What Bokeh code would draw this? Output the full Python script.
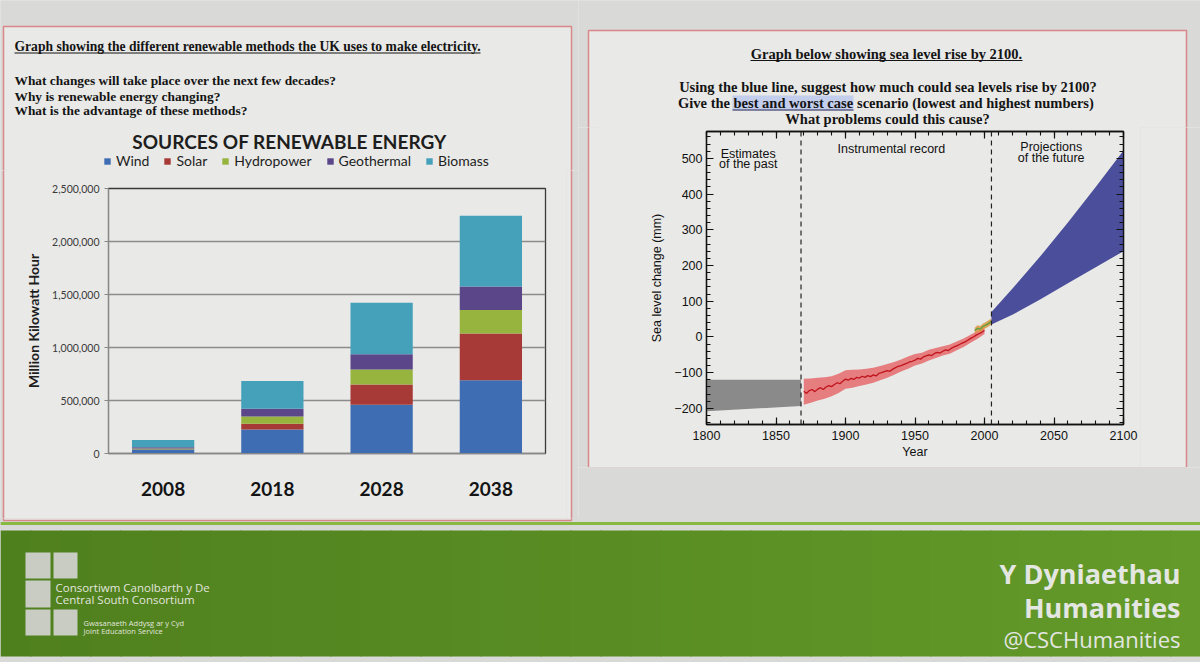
from bokeh.plotting import figure
from bokeh.models import (ColumnDataSource, FactorRange, Range1d, Label, Legend, LegendItem,
                          NumeralTickFormatter, SingleIntervalTicker, LinearAxis, Span)
from bokeh.core.properties import value
from bokeh.layouts import row, column
from bokeh.embed import file_html
from bokeh.resources import INLINE

# ---------------- data: renewable energy bar chart ----------------
years = ["2008", "2018", "2028", "2038"]
sources = ["Wind", "Solar", "Hydropower", "Geothermal", "Biomass"]
wind = [38000, 227000, 461000, 691000]
solar = [2000, 54000, 189000, 442000]
hydro = [8000, 69000, 142000, 221000]
geothermal = [10000, 73000, 145000, 221000]
biomass = [70000, 261000, 486000, 669000]
source_colors = ["#3F6DB3", "#A73A36", "#97B43F", "#5B4689", "#45A1BA"]

# ---------------- data: sea level chart ----------------
past_years = [1800, 1868]
past_low = [-208, -193]
past_high = [-120, -120]

instr_years = list(range(1870, 2001, 2))
instr_mean = [-152, -158, -150, -147, -153, -146, -142, -147, -140, -136, -139, -133, -128, -131,
              -124, -118, -121, -116, -119, -113, -115, -110, -113, -108, -111, -106, -109, -102,
              -100, -97, -94, -96, -90, -86, -82, -80, -77, -74, -70, -68, -65, -60, -62, -56,
              -53, -50, -52, -46, -43, -45, -40, -36, -38, -32, -28, -25, -21, -17, -14, -9,
              -4, 0, 5, 9, 13, 18]
band_years = list(range(1870, 2001, 5))
band_low = [-190, -184, -178, -173, -166, -157, -145, -142, -137, -133, -128, -121, -114, -106,
            -97, -89, -80, -74, -66, -59, -52, -47, -37, -28, -16, -5, 8]
band_high = [-117, -116, -114, -113, -110, -103, -93, -92, -91, -89, -86, -81, -76, -70,
             -63, -55, -48, -44, -36, -31, -26, -21, -13, -4, 6, 17, 28]

sat_years = [1993, 1995, 1997, 1999, 2001, 2003, 2005]
sat_mean = [18, 24, 22, 30, 33, 38, 44]
sat_low = [10, 15, 14, 21, 25, 29, 36]
sat_high = [26, 33, 31, 38, 42, 47, 52]

proj_years = [2005, 2020, 2040, 2060, 2080, 2100]
proj_low = [35, 62, 105, 150, 195, 240]
proj_high = [70, 135, 225, 320, 420, 522]

# ---------------- styling constants ----------------
SLIDE = "#d9d9d7"
PANEL = "#e9e9e7"
RED = "#d9878a"
SERIF = "Liberation Serif"
SANS = "Liberation Sans"
INK = "#141414"


def no_align(p):
    try:
        p.frame_align = False
    except Exception:
        pass
    return p


def deco(x0, x1, y0, y1):
    """A figure whose frame is its whole area, with data coordinates equal to page pixels."""
    p = figure(width=x1 - x0, height=y1 - y0, x_range=Range1d(x0, x1), y_range=Range1d(y1, y0),
               output_backend="svg", toolbar_location=None, title=None, min_border=0,
               x_axis_location=None, y_axis_location=None,
               background_fill_color=SLIDE, border_fill_color=SLIDE)
    p.grid.visible = False
    p.outline_line_color = None
    return no_align(p)


def panel(p, l, r, t, b):
    p.quad(left=[l], right=[r], top=[t], bottom=[b], fill_color=PANEL, fill_alpha=1.0,
           line_color=RED, line_alpha=1.0, line_width=1.5)


def txt(p, x, y, s, size, align="left", font=SERIF, style="bold", color=INK):
    p.text(x=[x], y=[y], text=[s], text_font=value(font), text_font_size=size,
           text_font_style=style, text_align=align, text_baseline="middle", text_color=color)


# ======================= LEFT PANEL =======================
hdrL = deco(0, 578, 0, 170)
panel(hdrL, 3, 571, 26, 900)
txt(hdrL, 14, 46, "Graph showing the different renewable methods the UK uses to make electricity.", "13.6px")
hdrL.segment(x0=[14], y0=[52.5], x1=[480], y1=[52.5], line_color=INK, line_width=1.1)
txt(hdrL, 14, 80, "What changes will take place over the next few decades?", "13.4px")
txt(hdrL, 14, 95.5, "Why is renewable energy changing?", "13.4px")
txt(hdrL, 14, 110, "What is the advantage of these methods?", "13.4px")
txt(hdrL, 289, 141, "SOURCES OF RENEWABLE ENERGY", "19px", align="center", font="Lato", color="#1e1e1e")

# legend swatches: renderers placed outside the visible header area
proxies = [hdrL.quad(left=[-50], right=[-40], top=[-50], bottom=[-40], fill_color=c, line_color=None)
           for c in source_colors]
legend = Legend(items=[LegendItem(label=s, renderers=[r]) for s, r in zip(sources, proxies)],
                orientation="horizontal", location=(103, 1), glyph_width=8, glyph_height=8,
                label_standoff=5, spacing=14, padding=0, margin=0, label_height=16,
                label_text_font="Lato", label_text_font_size="14px", label_text_color="#1e1e1e",
                border_line_color=None, background_fill_alpha=0.0)
hdrL.add_layout(legend)

src = ColumnDataSource(dict(year=years, Wind=wind, Solar=solar, Hydropower=hydro,
                            Geothermal=geothermal, Biomass=biomass))
p1 = figure(width=558, height=348, x_range=FactorRange(*years), y_range=Range1d(0, 2500000),
            output_backend="svg", toolbar_location=None, title=None,
            min_border_left=100, min_border_right=21, min_border_top=18, min_border_bottom=65,
            background_fill_color=PANEL, border_fill_color=PANEL)
no_align(p1)
p1.vbar_stack(stackers=sources, x="year", width=0.57, fill_color=source_colors,
              line_color=None, source=src)
p1.outline_line_color = "#3a3a3a"
p1.outline_line_width = 1.3
p1.xgrid.visible = False
p1.ygrid.grid_line_color = "#8c8c8c"
p1.ygrid.grid_line_width = 1.3

ya = p1.left[0]
ya.ticker = SingleIntervalTicker(interval=500000, num_minor_ticks=0)
ya.formatter = NumeralTickFormatter(format="0,0")
ya.major_label_text_font = "Lato"
ya.major_label_text_font_size = "10.5px"
ya.major_label_text_color = "#3a3a3a"
ya.major_tick_out = 4
ya.major_tick_in = 0
ya.major_tick_line_color = "#888888"
ya.minor_tick_line_color = None
ya.axis_line_color = "#888888"
ya.major_label_standoff = 5
ya.axis_label = "Million Kilowatt Hour"
ya.axis_label_text_font = "Lato"
ya.axis_label_text_font_size = "14px"
ya.axis_label_text_font_style = "bold"
ya.axis_label_text_color = "#1e1e1e"
ya.axis_label_standoff = 7

xa = p1.below[0]
xa.major_label_text_font = "Lato"
xa.major_label_text_font_size = "19px"
xa.major_label_text_font_style = "bold"
xa.major_label_text_color = INK
xa.major_tick_line_color = None
xa.axis_line_color = "#888888"
xa.major_label_standoff = 22

stripL0 = deco(0, 8, 170, 518)
panel(stripL0, 3, 571, 0, 900)
stripL = deco(566, 578, 170, 518)
panel(stripL, 3, 571, 0, 900)

left_group = column(hdrL, row(stripL0, p1, stripL), styles={"background-color": PANEL})

# ======================= RIGHT PANEL =======================
RT = "14.5px"
hdrR = deco(578, 1200, 0, 127)
panel(hdrR, 588, 1186, 30, 900)
txt(hdrR, 886, 53, "Graph below showing sea level rise by 2100.", RT, align="center")
hdrR.segment(x0=[750], y0=[60], x1=[1022], y1=[60], line_color=INK, line_width=1.1)
txt(hdrR, 887.5, 86, "Using the blue line, suggest how much could sea levels rise by 2100?",
    RT, align="center")
hdrR.quad(left=[732], right=[853], top=[95], bottom=[110], fill_color="#c3cdec", line_color=None)
txt(hdrR, 729.5, 102.5, "Give the", RT, align="right")
txt(hdrR, 733, 102.5, "best and worst case", RT)
hdrR.segment(x0=[732], y0=[109.5], x1=[853], y1=[109.5], line_color="#2a2a55", line_width=1.1)
txt(hdrR, 856.5, 102.5, "scenario (lowest and highest numbers)", RT)
txt(hdrR, 887, 118, "What problems could this cause?", RT, align="center")

p2 = figure(width=540, height=340, x_range=Range1d(1800, 2100), y_range=Range1d(-245, 575),
            output_backend="svg", toolbar_location=None, title=None,
            min_border_left=106, min_border_right=17, min_border_top=4, min_border_bottom=43,
            background_fill_color=PANEL, border_fill_color=PANEL)
no_align(p2)
p2.grid.visible = False
p2.outline_line_color = "#111111"
p2.outline_line_width = 1.3

p2.varea(x=past_years, y1=past_low, y2=past_high, fill_color="#8a8a8a")
p2.varea(x=band_years, y1=band_low, y2=band_high, fill_color="#e56a6c", fill_alpha=0.85)
p2.line(x=instr_years, y=instr_mean, line_color="#c0141c", line_width=1.3)
p2.varea(x=sat_years, y1=sat_low, y2=sat_high, fill_color="#d9973a", fill_alpha=0.85)
p2.line(x=sat_years, y=sat_mean, line_color="#5f9e45", line_width=1.3)
p2.varea(x=proj_years, y1=proj_low, y2=proj_high, fill_color="#4B4E9A")

for loc in (1868, 2005):
    p2.add_layout(Span(location=loc, dimension="height", line_color="#222222",
                       line_width=1.2, line_dash="5 4"))

xb = p2.below[0]
yl = p2.left[0]
xt = SingleIntervalTicker(interval=50, num_minor_ticks=5)
yt = SingleIntervalTicker(interval=100, num_minor_ticks=5)
xb.ticker = xt
yl.ticker = yt
xtop = LinearAxis(ticker=xt, major_label_text_font_size="2px", major_label_text_color=None,
                  major_label_standoff=0)
yright = LinearAxis(ticker=yt, major_label_text_font_size="2px", major_label_text_color=None,
                    major_label_standoff=0)
p2.add_layout(xtop, "above")
p2.add_layout(yright, "right")
for ax in (xb, yl, xtop, yright):
    ax.major_tick_in = 7
    ax.major_tick_out = 0
    ax.minor_tick_in = 4
    ax.minor_tick_out = 0
    ax.axis_line_color = "#111111"
    ax.axis_line_width = 1.3
    ax.major_tick_line_color = "#111111"
    ax.minor_tick_line_color = "#111111"
    ax.major_tick_line_width = 1.2
    ax.minor_tick_line_width = 1.1
    ax.major_label_text_font = SANS

for ax in (xb, yl):
    ax.major_label_text_font_size = "12.5px"
    ax.major_label_text_color = "#111111"
    ax.axis_label_text_font = SANS
    ax.axis_label_text_font_size = "12.5px"
    ax.axis_label_text_font_style = "normal"
    ax.axis_label_text_color = "#111111"
xb.major_label_standoff = 6
yl.major_label_standoff = 4
xb.axis_label = "Year"
yl.axis_label = "Sea level change (mm)"
xb.axis_label_standoff = 2
yl.axis_label_standoff = 7

for x, y, t in [(1830, 513, "Estimates"), (1830, 485, "of the past"),
                (1933, 527, "Instrumental record"),
                (2048, 533, "Projections"), (2048, 502, "of the future")]:
    p2.add_layout(Label(x=x, y=y, text=t, text_align="center", text_baseline="middle",
                        text_font=SANS, text_font_size="12.5px", text_color="#111111"))

stripRL = deco(578, 600, 127, 467)
panel(stripRL, 588, 1186, 0, 900)
stripRR = deco(1140, 1200, 127, 467)
panel(stripRR, 588, 1186, 0, 900)
botR = deco(578, 1200, 467, 518)
panel(botR, 588, 1186, 0, 466)

right_group = column(hdrR, row(stripRL, p2, stripRR), botR, styles={"background-color": PANEL})

# ======================= BOTTOM GREEN BAND =======================
logo_left = [25, 53, 25, 25, 53]
logo_right = [50, 77, 50, 50, 77]
logo_top = [552, 552, 580, 609, 609]
logo_bottom = [578, 578, 607, 635, 635]

p3 = deco(0, 1200, 518, 662)
panel(p3, 3, 571, 0, 520)
p3.quad(left=[0], right=[1200], top=[521.5], bottom=[524.5], fill_color="#86b842", line_color=None)

# band shading from darker green (left) to brighter green (right)
g_left, g_right = (0x4F, 0x80, 0x1E), (0x63, 0x9A, 0x29)
n_slices = 40
sl_l, sl_r, sl_c = [], [], []
for i in range(n_slices):
    f = i / (n_slices - 1)
    rgb = tuple(int(round(a + (b - a) * f)) for a, b in zip(g_left, g_right))
    sl_l.append(i * 30)
    sl_r.append(i * 30 + 31)
    sl_c.append("#%02x%02x%02x" % rgb)
p3.quad(left=sl_l, right=sl_r, top=[530] * n_slices, bottom=[656] * n_slices,
        fill_color=sl_c, line_color=None)
p3.quad(left=logo_left, right=logo_right, top=logo_top, bottom=logo_bottom,
        fill_color="#c8ccc2", line_color=None)

LOGO_TXT = "#e2e5de"
for x, y, t, s in [(55, 587, "Consortiwm Canolbarth y De", "11.5px"),
                   (55, 599, "Central South Consortium", "11.5px"),
                   (83, 622, "Gwasanaeth Addysg ar y Cyd", "7.5px"),
                   (83, 630, "Joint Education Service", "7.5px")]:
    txt(p3, x, y, t, s, font="Open Sans", style="normal", color=LOGO_TXT)
for y, t, s, st in [(573, "Y Dyniaethau", "27px", "bold"), (607, "Humanities", "27px", "bold"),
                    (638, "@CSCHumanities", "22px", "normal")]:
    txt(p3, 1180, y, t, s, align="right", font="Open Sans", style=st, color="#e4e6e2")

layout = column(row(left_group, right_group, styles={"background-color": SLIDE}), p3,
                styles={"background-color": SLIDE})
open("out.html", "w").write(file_html(layout, INLINE))
